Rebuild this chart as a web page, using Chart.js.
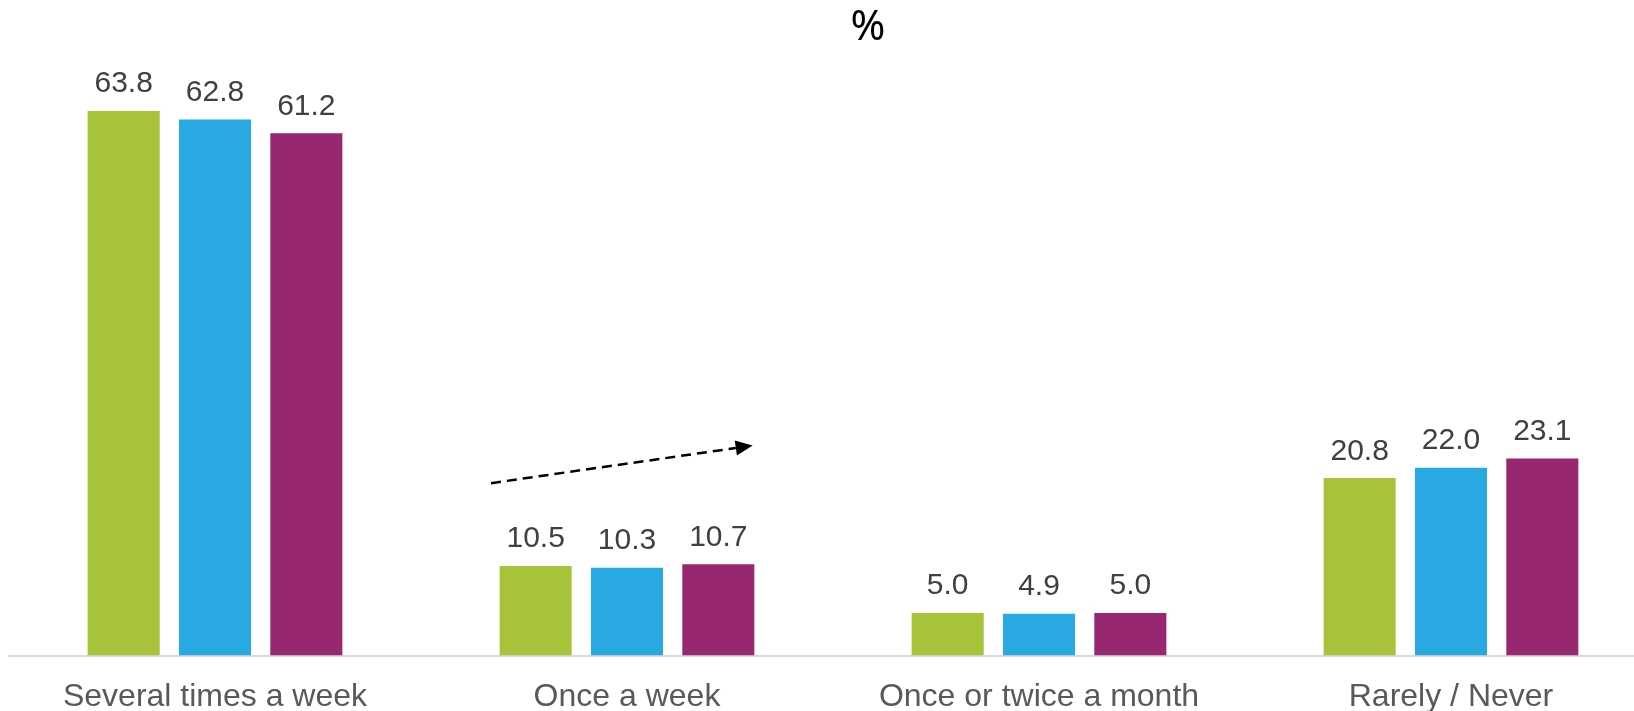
<!DOCTYPE html>
<html>
<head>
<meta charset="utf-8">
<script src="https://cdn.jsdelivr.net/npm/chart.js@4.4.1/dist/chart.umd.min.js"></script>
<style>
  html, body { margin: 0; padding: 0; background: #ffffff; overflow: hidden; }
  #wrap { width: 1634px; height: 711px; overflow: hidden; position: relative; }
  canvas { display: block; }
</style>
</head>
<body>
<div id="wrap"><canvas id="chart" width="1657" height="739"></canvas></div>
<script>
// Frequency categories
const categories = ["Several times a week", "Once a week", "Once or twice a month", "Rarely / Never"];

// Shares (%) for the three survey waves
const seriesGreen  = [63.8, 10.5, 5.0, 20.8];
const seriesBlue   = [62.8, 10.3, 4.9, 22.0];
const seriesPurple = [61.2, 10.7, 5.0, 23.1];

const titleText = "%";

const COLORS = ["#A6C33A", "#29A9E1", "#982771"];

// Dashed trend arrow, given in scale units (category index, value)
const arrowFrom = [0.67, 20.2];
const arrowTo   = [1.305, 24.6];

// Draws the value above every bar
const valueLabels = {
  id: "valueLabels",
  afterDatasetsDraw(chart) {
    const ctx = chart.ctx;
    ctx.save();
    ctx.font = "30px 'Liberation Sans', Arial, sans-serif";
    ctx.fillStyle = "#404040";
    ctx.textAlign = "center";
    ctx.textBaseline = "alphabetic";
    chart.data.datasets.forEach((ds, di) => {
      const meta = chart.getDatasetMeta(di);
      meta.data.forEach((bar, i) => {
        ctx.fillText(ds.data[i].toFixed(1), bar.x, bar.y - 18.5);
      });
    });
    ctx.restore();
  }
};

// Title and dashed arrow
const extras = {
  id: "extras",
  afterDraw(chart) {
    const ctx = chart.ctx;
    const xs = chart.scales.x, ys = chart.scales.y;
    ctx.save();
    ctx.font = "42px 'Noto Sans', sans-serif";
    ctx.fillStyle = "#000000";
    ctx.textAlign = "center";
    ctx.textBaseline = "middle";
    ctx.fillText(titleText, 868, 28.5);

    const catW = xs.getPixelForValue(1) - xs.getPixelForValue(0);
    const px = v => xs.getPixelForValue(0) + v * catW;
    const x1 = px(arrowFrom[0]), y1 = ys.getPixelForValue(arrowFrom[1]);
    const x2 = px(arrowTo[0]),   y2 = ys.getPixelForValue(arrowTo[1]);
    const ang = Math.atan2(y2 - y1, x2 - x1);
    const headLen = 17, headW = 7.5;
    const bx = x2 - headLen * Math.cos(ang), by = y2 - headLen * Math.sin(ang);
    ctx.strokeStyle = "#000000";
    ctx.lineWidth = 2.5;
    ctx.setLineDash([10, 6]);
    ctx.beginPath();
    ctx.moveTo(x1, y1);
    ctx.lineTo(bx, by);
    ctx.stroke();
    ctx.setLineDash([]);
    ctx.fillStyle = "#000000";
    ctx.beginPath();
    ctx.moveTo(x2, y2);
    ctx.lineTo(bx + headW * Math.sin(ang), by - headW * Math.cos(ang));
    ctx.lineTo(bx - headW * Math.sin(ang), by + headW * Math.cos(ang));
    ctx.closePath();
    ctx.fill();
    ctx.restore();
  }
};

new Chart(document.getElementById("chart"), {
  type: "bar",
  data: {
    labels: categories,
    datasets: [
      { data: seriesGreen,  backgroundColor: COLORS[0] },
      { data: seriesBlue,   backgroundColor: COLORS[1] },
      { data: seriesPurple, backgroundColor: COLORS[2] }
    ]
  },
  options: {
    responsive: false,
    animation: false,
    events: [],
    layout: { padding: { left: 9, right: 0, top: 58, bottom: 0 } },
    datasets: {
      bar: { categoryPercentage: 0.665, barPercentage: 0.789 }
    },
    plugins: {
      legend: { display: false },
      title: { display: false },
      tooltip: { enabled: false }
    },
    scales: {
      x: {
        grid: { display: false, drawTicks: false },
        border: { display: true, color: "#D9D9D9", width: 2 },
        ticks: {
          color: "#595959",
          padding: 22.5,
          font: { family: "'Liberation Sans', Arial, sans-serif", size: 32 },
          maxRotation: 0,
          autoSkip: false
        }
      },
      y: {
        display: false,
        min: 0,
        max: 70
      }
    }
  },
  plugins: [valueLabels, extras]
});
</script>
</body>
</html>
